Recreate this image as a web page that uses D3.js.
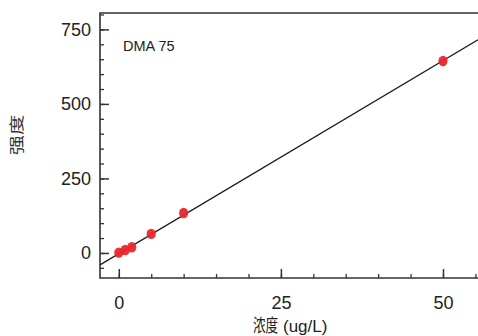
<!DOCTYPE html>
<html>
<head lang="zh">
  <title>DMA 75</title>
  <script src="https://d3js.org/d3.v7.min.js" charset="utf-8"></script>
  <style>
    body { margin: 0; background: #fff; }
    .tick text { font-family: "Liberation Sans Narrow", "Liberation Sans", sans-serif; font-size: 18px; fill: #222; }
  </style>
</head>
<body>
  <script>

    // calibration data
    var concentration = [0, 1, 2, 5, 10, 50];
    var intensity = [1, 10, 19, 64, 134, 644];
    var fitSlope = 12.95;
    var fitIntercept = -2.4;
    var xTicks = [0, 25, 50];
    var yTicks = [0, 250, 500, 750];
    var seriesName = "DMA 75";

    var width = 478;
    var height = 336;

    var svg = d3.select("body")
      .append("svg")
      .attr("width", width)
      .attr("height", height);

    var x = d3.scaleLinear()
      .domain([-2.9, 55.4])
      .range([100, 478]);

    var y = d3.scaleLinear()
      .domain([-84, 805])
      .range([278, 13]);

    var axisColor = "#333";

    // minor ticks
    svg.append("g")
      .attr("transform", "translate(100,0)")
      .call(d3.axisLeft(y).tickValues(d3.range(-50, 801, 50)).tickSize(-4).tickFormat(""))
      .call(function(g) { g.select(".domain").remove(); })
      .selectAll("line").attr("stroke", axisColor).attr("stroke-width", 1.3);

    svg.append("g")
      .attr("transform", "translate(0,278)")
      .call(d3.axisBottom(x).tickValues(d3.range(0, 56, 5)).tickSize(-4).tickFormat(""))
      .call(function(g) { g.select(".domain").remove(); })
      .selectAll("line").attr("stroke", axisColor).attr("stroke-width", 1.3);

    // major ticks
    var yAxis = svg.append("g")
      .attr("transform", "translate(100,0)")
      .call(d3.axisLeft(y).tickValues(yTicks).tickSizeInner(-9).tickSizeOuter(0).tickPadding(9));
    yAxis.select(".domain").remove();
    yAxis.selectAll("line").attr("stroke", axisColor).attr("stroke-width", 1.5);

    var xAxis = svg.append("g")
      .attr("transform", "translate(0,278)")
      .call(d3.axisBottom(x).tickValues(xTicks).tickSizeInner(-9).tickSizeOuter(0).tickPadding(18));
    xAxis.select(".domain").remove();
    xAxis.selectAll("line").attr("stroke", axisColor).attr("stroke-width", 1.5);

    // frame
    svg.append("path")
      .attr("d", "M" + width + "," + y.range()[1] + "H" + x.range()[0] + "V" + y.range()[0] + "H" + width)
      .attr("fill", "none")
      .attr("stroke", axisColor)
      .attr("stroke-width", 1.6);

    // fit line
    var xd = x.domain();
    svg.append("line")
      .attr("x1", x(xd[0]))
      .attr("y1", y(fitSlope * xd[0] + fitIntercept))
      .attr("x2", x(xd[1]))
      .attr("y2", y(fitSlope * xd[1] + fitIntercept))
      .attr("stroke", "#1a1a1a")
      .attr("stroke-width", 1.2);

    // points
    svg.selectAll("ellipse.pt")
      .data(concentration)
      .enter().append("ellipse")
        .attr("class", "pt")
        .attr("cx", function(d) { return x(d); })
        .attr("cy", function(d, i) { return y(intensity[i]); })
        .attr("rx", 4.6)
        .attr("ry", 5.2)
        .attr("fill", "#e8262b")
        .attr("fill-opacity", 0.95);

    svg.append("text")
      .attr("x", 123)
      .attr("y", 51)
      .attr("font-family", "'Liberation Sans Narrow', 'Liberation Sans', sans-serif")
      .attr("font-size", "14.5px")
      .attr("fill", "#222")
      .text(seriesName);

    // y title: glyphs look stretched along the reading direction
    svg.append("text")
      .attr("transform", "translate(22,135) rotate(-90) scale(1.35,1)")
      .attr("text-anchor", "middle")
      .attr("font-family", "'Noto Sans CJK SC', sans-serif")
      .attr("font-size", "15px")
      .attr("fill", "#333")
      .text("强度");

    // x title: CJK part is compressed, latin part in narrow face
    svg.append("text")
      .attr("transform", "translate(253,332) scale(0.7,1)")
      .attr("font-family", "'Noto Sans CJK SC', sans-serif")
      .attr("font-size", "18px")
      .attr("fill", "#222")
      .text("浓度");

    svg.append("text")
      .attr("x", 283)
      .attr("y", 332)
      .attr("font-family", "'Liberation Sans Narrow', 'Liberation Sans', sans-serif")
      .attr("font-size", "17px")
      .attr("fill", "#222")
      .text("(ug/L)");

  </script>
</body>
</html>
